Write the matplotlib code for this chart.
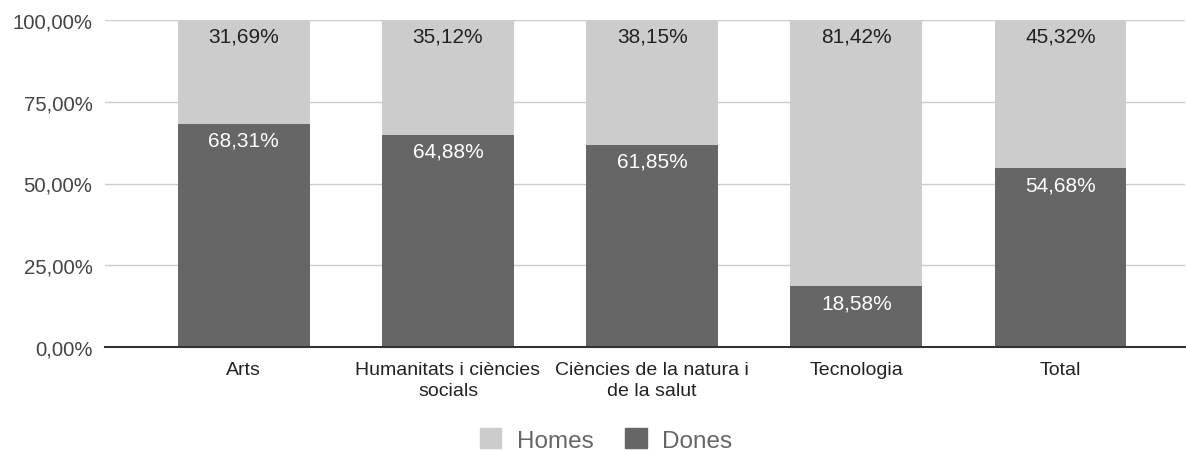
import numpy as np
from matplotlib import pyplot as plt
from matplotlib.patches import Patch

plt.rcParams['font.family'] = ['Liberation Sans', 'DejaVu Sans']

categories = ["Arts", "Humanitats i ciències\nsocials", "Ciències de la natura i\nde la salut", "Tecnologia", "Total"]
dones = [68.31, 64.88, 61.85, 18.58, 54.68]
homes = [31.69, 35.12, 38.15, 81.42, 45.32]
yticks = [0, 25, 50, 75, 100]

c_homes = "#cccccc"
c_dones = "#666666"

def fmt(v):
    return f"{v:.2f}".replace(".", ",") + "%"

fig = plt.figure(figsize=(11.86, 4.52), dpi=100)
ax = fig.add_axes([105/1186, 104/452, 1080/1186, 327/452])

x = np.arange(len(categories))
w = 0.646
ax.bar(x, dones, w, color=c_dones, zorder=3)
ax.bar(x, homes, w, bottom=dones, color=c_homes, zorder=3)

for i in range(len(categories)):
    ax.annotate(fmt(homes[i]), (x[i], dones[i] + homes[i]), xytext=(0, -5), textcoords="offset points",
                ha="center", va="top", fontsize=15, color="#222222", zorder=4)
    ax.annotate(fmt(dones[i]), (x[i], dones[i]), xytext=(0, -5), textcoords="offset points",
                ha="center", va="top", fontsize=15, color="white", zorder=4)

ax.set_xlim(-0.68, 4.61)
ax.set_ylim(0, 100)
ax.set_yticks(yticks)
ax.set_yticklabels([fmt(v) for v in yticks])
ax.set_xticks(x)
ax.set_xticklabels(categories, linespacing=1.35)
ax.tick_params(axis="y", length=0, pad=9, labelsize=14.7, labelcolor="#444444")
ax.tick_params(axis="x", length=0, pad=10, labelsize=14, labelcolor="#222222")
ax.grid(axis="y", color="#cccccc", lw=1, zorder=0)
for s in ["top", "right", "left"]:
    ax.spines[s].set_visible(False)
ax.spines["bottom"].set_color("#333333")
ax.spines["bottom"].set_linewidth(1.5)
ax.spines["bottom"].set_zorder(5)

handles = [Patch(color=c_homes, label="Homes"), Patch(color=c_dones, label="Dones")]
leg = fig.legend(handles=handles, loc="center", bbox_to_anchor=(606/1186, 1 - 441/452), ncol=2,
                 frameon=False, fontsize=17.5, handlelength=0.88, handleheight=0.88, columnspacing=1.3, handletextpad=0.65)
for t in leg.get_texts():
    t.set_color("#666666")

plt.savefig("out.png", dpi=100)
